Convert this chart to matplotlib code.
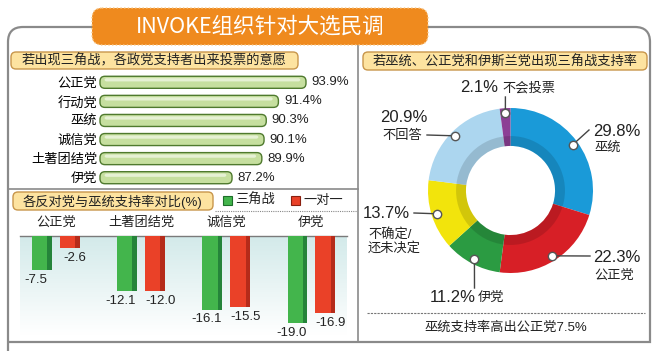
import numpy as np
import matplotlib
matplotlib.use('Agg')
import matplotlib.pyplot as plt
from matplotlib.patches import FancyBboxPatch, Wedge, Rectangle, PathPatch
from matplotlib.path import Path
from matplotlib.colors import LinearSegmentedColormap

plt.rcParams['font.family'] = ['Liberation Sans', 'Noto Sans CJK SC', 'DejaVu Sans']

# data
turnout_parties = ['公正党', '行动党', '巫统', '诚信党', '土著团结党', '伊党']
turnout_values = [93.9, 91.4, 90.3, 90.1, 89.9, 87.2]

gap_parties = ['公正党', '土著团结党', '诚信党', '伊党']
gap_three = [-7.5, -12.1, -16.1, -19.0]
gap_one = [-2.6, -12.0, -15.5, -16.9]
gap_legend = ['三角战', '一对一']

share_labels = ['巫统', '公正党', '伊党', '不确定/\n还未决定', '不回答', '不会投票']
share_values = [29.8, 22.3, 11.2, 13.7, 20.9, 2.1]
share_colors = ['#1a9ad8', '#d71f26', '#2b9b42', '#f2e40c', '#acd6ef', '#8c3f95']

W, H = 660, 351
fig = plt.figure(figsize=(6.6, 3.51), dpi=100)


def ax_px(x0, y0, x1, y1):
    return fig.add_axes([x0 / W, 1 - y1 / H, (x1 - x0) / W, (y1 - y0) / H])


bg = ax_px(0, 0, W, H)
bg.set_xlim(0, W)
bg.set_ylim(H, 0)
bg.axis('off')

# frame
verts = [(8, 351), (8, 42), (8, 27), (23, 27), (635, 27), (650, 27), (650, 42),
         (650, 342), (8, 342)]
codes = [Path.MOVETO, Path.LINETO, Path.CURVE3, Path.CURVE3, Path.LINETO,
         Path.CURVE3, Path.CURVE3, Path.LINETO, Path.LINETO]
bg.add_patch(PathPatch(Path(verts, codes), fill=False, ec='#8a8a8a', lw=1.6))
bg.plot([358, 358], [30, 342], color='#8a8a8a', lw=1.2)
bg.plot([8, 358], [189, 189], color='#8a8a8a', lw=1.2)

# title
bg.add_patch(FancyBboxPatch((92, 8), 336, 37, boxstyle='round,pad=0,rounding_size=10',
                            fc='#ef8a1e', ec='#f8c98a', lw=1, ls=':', zorder=3))
bg.text(260, 27, 'INVOKE组织针对大选民调', color='white', fontsize=15.5,
        family=['Noto Sans CJK SC'], ha='center', va='center', zorder=4)


def heading(x0, y0, x1, y1, txt):
    bg.add_patch(FancyBboxPatch((x0, y0), x1 - x0, y1 - y0,
                                boxstyle='round,pad=0,rounding_size=5',
                                fc='#fde3a0', ec='#c8964b', lw=1, zorder=3))
    bg.text((x0 + x1) / 2, (y0 + y1) / 2 + 0.5, txt, fontsize=9.5, color='#222',
            ha='center', va='center', zorder=4)


heading(11, 52, 298, 69, '若出现三角战，各政党支持者出来投票的意愿')
heading(13, 192, 213, 210, '各反对党与巫统支持率对比(%)')
heading(363, 52, 647, 70, '若巫统、公正党和伊斯兰党出现三角战支持率')

# turnout bars (rounded caps)
x0 = 75.24
axb = ax_px(100, 72.75, 340, 187.25)
yy = np.arange(len(turnout_values))
bars = axb.barh(yy, np.array(turnout_values) - x0, left=x0, height=0.63,
                color='#c6df9f', edgecolor='#4f7a2e', lw=1)
for b in bars:
    b.set_visible(False)
    axb.add_patch(FancyBboxPatch((b.get_x(), b.get_y()), b.get_width(), b.get_height(),
                                 boxstyle='round,pad=0,rounding_size=0.45',
                                 mutation_aspect=0.578, fc='#c6df9f', ec='#4f7a2e',
                                 lw=1, clip_on=False))
    axb.add_patch(FancyBboxPatch((b.get_x() + 0.4, b.get_y() + 0.1), b.get_width() - 0.9,
                                 0.17, boxstyle='round,pad=0,rounding_size=0.2',
                                 mutation_aspect=0.578, fc='#e6f1d4', ec='none',
                                 clip_on=False))
for i, v in enumerate(turnout_values):
    axb.text(v + 0.5, i, f'{v}%', va='center', fontsize=9.5, color='#222')
axb.set_xlim(x0, 96.98)
axb.set_ylim(5.5, -0.5)
axb.set_yticks(yy, turnout_parties, fontsize=9.5)
axb.set_xticks([])
axb.tick_params(length=0, pad=2)
for s in axb.spines.values():
    s.set_visible(False)
axb.patch.set_alpha(0)

# gap bars
axv = ax_px(20, 236, 347, 335)
cmap = LinearSegmentedColormap.from_list('bgfade', ['#d3eaea', '#ffffff'])
axv.imshow(np.linspace(0, 1, 100).reshape(-1, 1), extent=[-0.42, 3.417, -21.6, 0],
           aspect='auto', cmap=cmap, origin='upper', zorder=0)
axv.set_xlim(-0.42, 3.417)
axv.set_ylim(-21.6, 0)
axv.axhline(0, color='#7a7a7a', lw=1, clip_on=False, zorder=1)
xs = np.arange(len(gap_parties))
xg = xs - 0.164
xr = xs + 0.164
axv.bar(xg - 0.027, gap_three, width=0.18, color='#43b54c', zorder=2)
axv.bar(xg + 0.09, gap_three, width=0.055, color='#25843a', zorder=2)
axv.bar(xr - 0.027, gap_one, width=0.18, color='#ea4128', zorder=2)
axv.bar(xr + 0.09, gap_one, width=0.055, color='#b52b1a', zorder=2)
for i in range(len(gap_parties)):
    axv.text(xs[i], 2.84, gap_parties[i], ha='center', va='center', fontsize=9.5,
             color='#222', clip_on=False)
    axv.text(xg[i] - 0.07, gap_three[i] - 0.8, f'{gap_three[i]:.1f}', ha='center',
             va='top', fontsize=9.5, color='#222')
    axv.text(xr[i] + 0.06, gap_one[i] - 0.8, f'{gap_one[i]:.1f}', ha='center',
             va='top', fontsize=9.5, color='#222')
axv.set_xticks([])
axv.set_yticks([])
for s in axv.spines.values():
    s.set_visible(False)

# legend
bg.add_patch(Rectangle((223, 196), 9, 9, fc='#43b54c', ec='#1e6e2a', lw=0.8))
bg.text(235, 200.5, gap_legend[0], fontsize=9.5, va='center', color='#222')
bg.add_patch(Rectangle((291, 196), 9, 9, fc='#ea4128', ec='#8a2010', lw=0.8))
bg.text(303, 200.5, gap_legend[1], fontsize=9.5, va='center', color='#222')
bg.plot([215, 357], [211, 211], color='#888', lw=0.8, ls=(0, (1, 1)))

# donut
cx, cy, R = 510.5, 190.5, 82.5
axp = ax_px(cx - R, cy - R, cx + R, cy + R)
axp.pie(share_values, colors=share_colors, startangle=90, counterclock=False,
        radius=1, wedgeprops=dict(width=0.46, edgecolor='none'))
axp.add_patch(Wedge((0, 0), 0.66, 0, 360, width=0.12, fc='black', alpha=0.13, lw=0))
axp.set_xlim(-1, 1)
axp.set_ylim(-1, 1)
axp.set_aspect('equal')
axp.axis('off')


def pc(px, py):
    return (px - cx) / R, (cy - py) / R


# label layout: (pct text pos, pct ha, name pos, leader end)
layout = [
    ((593, 131), 'left', (594, 149), (589, 130)),
    ((593, 258), 'left', (594, 276), (590, 256)),
    ((430, 297), 'left', (478, 298), (474.5, 288)),
    ((410, 213), 'right', (368, 241), (414, 213)),
    ((380, 118), 'left', (382, 136), (427, 135)),
    ((460, 87), 'left', (502, 88), (505.4, 97)),
]
cum = np.cumsum([0] + share_values[:-1])
for i, v in enumerate(share_values):
    th = np.deg2rad((cum[i] + v / 2) / sum(share_values) * 360)
    mx, my = 0.94 * np.sin(th), 0.94 * np.cos(th)
    (tx, ty), ha, npos, lend = layout[i]
    ex, ey = pc(*lend)
    axp.plot([mx, ex], [my, ey], color='#444', lw=1, zorder=4, clip_on=False)
    axp.plot(mx, my, 'o', ms=6, mfc='white', mec='#555', mew=1, zorder=5, clip_on=False)
    axp.text(*pc(tx, ty), f'{v}%', ha=ha, va='center', fontsize=12, color='#222')
    axp.text(*pc(*npos), share_labels[i], ha='left', va='center', fontsize=9.5,
             color='#222', linespacing=1.1)

# footer
bg.plot([367, 645], [313, 313], color='#777', lw=0.8, ls=(0, (2, 1)))
bg.text(506, 328, '巫统支持率高出公正党7.5%', fontsize=9.5, ha='center', va='center',
        color='#222')

fig.savefig('out.png', dpi=100)
